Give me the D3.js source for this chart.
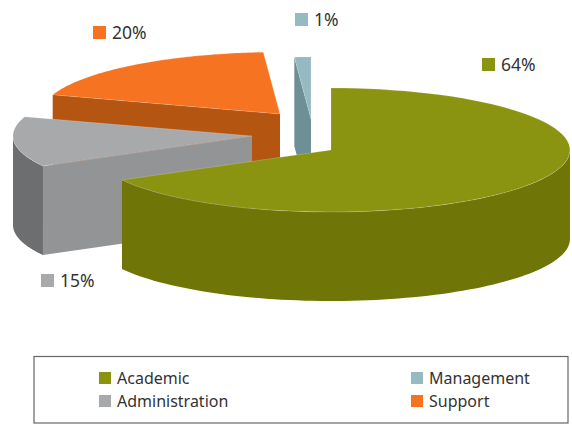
<!DOCTYPE html>
<html>
<head>
<meta charset="utf-8">
<script src="https://cdn.jsdelivr.net/npm/d3@7"></script>
<style>
html, body { margin: 0; padding: 0; background: #fff; }
svg { display: block; }
text { font-family: "Noto Sans", sans-serif; font-size: 16px; fill: #333; }
.label text { font-size: 17.5px; }
</style>
</head>
<body>
<script>
// data
const categories = ["Academic", "Administration", "Support", "Management"];
const values = [64, 15, 20, 1];
const valueLabels = ["64%", "15%", "20%", "1%"];
const topColors = ["#8a9411", "#a8a9ab", "#f57321", "#95bac1"];
const faceColors = ["#707507", "#939495", "#b45511", "#6f8f96"];
const wallColors = ["#707507", "#6d6e70", "#b45511", "#6f8f96"];

let width = 572,
	height = 426;

// the pie is tilted, so slice angles on screen differ a bit from the true ones
let screenAngles = [0, 241, 288, 356, 360];
let rx = 239, ry = 62, depth = 89;

// exploded centre of each slice
let centres = [[331, 150], [252, 136], [280, 114], [311, 119]];
let labelPos = [[482, 58], [41, 274], [93, 26], [295, 13]];
let legendPos = [[99, 372], [99, 395], [411, 395], [411, 372]];

let svg = d3.select("body").append("svg")
	.attr("width", width)
	.attr("height", height);

let arcs = d3.pie().sort(null)(values);

let domain = [0].concat(arcs.map(function(d) { return d.endAngle; }));
let warp = d3.scaleLinear()
	.domain(domain)
	.range(screenAngles.map(function(a) { return a * Math.PI / 180; }));

let line = d3.line();

function point(c, a, drop) {
	return [c[0] + rx * Math.sin(a), c[1] - ry * Math.cos(a) + (drop || 0)];
}

function arcPoints(c, a0, a1, drop) {
	let n = 80;
	return d3.range(n + 1).map(function(i) {
		return point(c, a0 + (a1 - a0) * i / n, drop);
	});
}

let order = d3.range(arcs.length).reverse();

order.forEach(function(i) {
	let c = centres[i],
		a0 = warp(arcs[i].startAngle),
		a1 = warp(arcs[i].endAngle);
	let g = svg.append("g").attr("class", "slice");

	// outer wall, only the front half of the rim can be seen
	let w0 = Math.max(a0, Math.PI / 2),
		w1 = Math.min(a1, Math.PI * 1.5);
	if (w1 > w0) {
		let wall = arcPoints(c, w0, w1, 0).concat(arcPoints(c, w1, w0, depth));
		g.append("path")
			.attr("d", line(wall) + "Z")
			.attr("fill", wallColors[i]);
	}

	// cut face on the leading edge
	let p = point(c, a0);
	let face = [c, p, [p[0], p[1] + depth], [c[0], c[1] + depth]];
	g.append("path")
		.attr("d", line(face) + "Z")
		.attr("fill", faceColors[i]);

	// top, the pale edge is in the reference too
	let top = [c].concat(arcPoints(c, a0, a1, 0));
	g.append("path")
		.attr("d", line(top) + "Z")
		.attr("fill", topColors[i])
		.attr("stroke", "#fff")
		.attr("stroke-opacity", 0.3)
		.attr("stroke-width", 0.6);
});

// value labels
let labels = svg.selectAll(".label")
	.data(valueLabels)
	.enter()
	.append("g")
	.attr("class", "label")
	.attr("transform", function(d, i) { return "translate(" + labelPos[i] + ")"; });

labels.append("rect")
	.attr("width", 13)
	.attr("height", 13)
	.attr("fill", function(d, i) { return topColors[i]; });

labels.append("text")
	.attr("x", 19)
	.attr("y", 12.5)
	.text(function(d) { return d; });

// legend
svg.append("rect")
	.attr("x", 34)
	.attr("y", 356.5)
	.attr("width", 534)
	.attr("height", 66.5)
	.attr("fill", "none")
	.attr("stroke", "#666")
	.attr("stroke-width", 1.2);

let legend = svg.selectAll(".legend")
	.data(categories)
	.enter()
	.append("g")
	.attr("class", "legend")
	.attr("transform", function(d, i) { return "translate(" + legendPos[i] + ")"; });

legend.append("rect")
	.attr("width", 12)
	.attr("height", 12)
	.attr("fill", function(d, i) { return topColors[i]; });

legend.append("text")
	.attr("x", 18)
	.attr("y", 12)
	.text(function(d) { return d; });
</script>
</body>
</html>
